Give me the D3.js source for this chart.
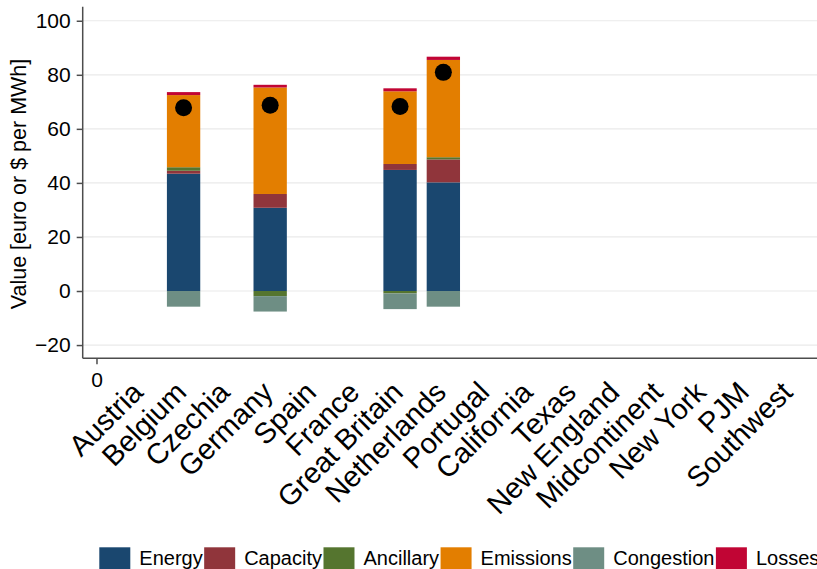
<!DOCTYPE html>
<html>
<head>
<meta charset="utf-8">
<script src="https://cdn.jsdelivr.net/npm/d3@7"></script>
<style>
  html, body { margin: 0; padding: 0; background: #fff; }
  svg { display: block; font-family: "Liberation Sans", Arial, Helvetica, sans-serif; }
</style>
</head>
<body>
<svg id="chart" width="817" height="569"></svg>
<script>
// Markets on the x axis (positions 1..16; position 0 is the bare "0" tick)
const markets = ["Austria", "Belgium", "Czechia", "Germany", "Spain", "France",
  "Great Britain", "Netherlands", "Portugal", "California", "Texas",
  "New England", "Midcontinent", "New York", "PJM", "Southwest"];

// Cost components (euro or $ per MWh); null = no data for that market
const energy     = [null, 43.4, null, 30.8, null, null, 44.8, 40.2, null, null, null, null, null, null, null, null];
const capacity   = [null,  1.1, null,  5.1, null, null,  2.2,  8.5, null, null, null, null, null, null, null, null];
const ancillary  = [null,  1.3, null, -1.9, null, null, -0.9,  0.8, null, null, null, null, null, null, null, null];
const emissions  = [null, 26.7, null, 39.4, null, null, 26.9, 36.0, null, null, null, null, null, null, null, null];
const congestion = [null, -5.8, null, -5.7, null, null, -5.8, -5.8, null, null, null, null, null, null, null, null];
const losses     = [null,  1.1, null,  1.0, null, null,  1.1,  1.2, null, null, null, null, null, null, null, null];
// Net total per market (black dots)
const netTotal   = [null, 67.8, null, 68.7, null, null, 68.3, 80.9, null, null, null, null, null, null, null, null];

const seriesNames = ["Energy", "Capacity", "Ancillary", "Emissions", "Congestion", "Losses"];
const seriesValues = [energy, capacity, ancillary, emissions, congestion, losses];
const seriesColors = ["#1a476f", "#90353b", "#55752f", "#e37e00", "#6e8e84", "#c10534"];

const yTicks = [-20, 0, 20, 40, 60, 80, 100];
const yTitle = "Value [euro or $ per MWh]";

const svg = d3.select("#chart");
const plot = { left: 82.7, right: 817, top: 6.7, bottom: 358.3 };

const x = d3.scaleLinear().domain([-0.33, 16.63]).range([plot.left, plot.right]);
const y = d3.scaleLinear().domain([-24.9, 105.2]).range([plot.bottom, plot.top]);
const color = d3.scaleOrdinal().domain(seriesNames).range(seriesColors);

// Table rows for the stack layout
const rows = markets.map((m, i) => {
  const r = { market: m, pos: i + 1, net: netTotal[i] };
  seriesNames.forEach((s, k) => { r[s] = seriesValues[k][i] == null ? 0 : seriesValues[k][i]; });
  r.hasData = energy[i] != null;
  return r;
});

const stacked = d3.stack()
  .keys(seriesNames)
  .order(d3.stackOrderNone)
  .offset(d3.stackOffsetDiverging)(rows);

// Grid lines
svg.append("g")
  .selectAll("line")
  .data(yTicks)
  .join("line")
  .attr("x1", plot.left).attr("x2", plot.right)
  .attr("y1", d => y(d)).attr("y2", d => y(d))
  .attr("stroke", "#eaeaea").attr("stroke-width", 1.2);

// Bars
const barW = x(0.77) - x(0);
svg.append("g")
  .selectAll("g")
  .data(stacked)
  .join("g")
  .attr("fill", d => color(d.key))
  .selectAll("rect")
  .data(d => d.filter(p => p.data.hasData && p[1] !== p[0]))
  .join("rect")
  .attr("x", p => x(p.data.pos) - barW / 2)
  .attr("width", barW)
  .attr("y", p => y(Math.max(p[0], p[1])))
  .attr("height", p => Math.abs(y(p[0]) - y(p[1])));

// Net total dots
svg.append("g")
  .selectAll("circle")
  .data(rows.filter(r => r.net != null))
  .join("circle")
  .attr("cx", r => x(r.pos))
  .attr("cy", r => y(r.net))
  .attr("r", 8.5)
  .attr("fill", "#000");

// Y axis
const yAxis = svg.append("g")
  .attr("transform", `translate(${plot.left},0)`)
  .call(d3.axisLeft(y).tickValues(yTicks).tickSize(6).tickPadding(6)
    .tickFormat(d => d < 0 ? "\u2212" + Math.abs(d) : d));
yAxis.select(".domain").attr("d", `M0,${plot.top}V${plot.bottom}`);
yAxis.selectAll("path, line").attr("stroke", "#4d4d4d").attr("stroke-width", 1.5);
yAxis.selectAll("text").attr("font-size", 21).attr("fill", "#000")
  .attr("font-family", "Liberation Sans, Arial, sans-serif");

// X axis: numeric "0" tick plus rotated market labels
const xAxis = svg.append("g").attr("transform", `translate(0,${plot.bottom})`);
xAxis.append("line")
  .attr("x1", plot.left).attr("x2", plot.right)
  .attr("stroke", "#4d4d4d").attr("stroke-width", 1.5);
xAxis.append("line")
  .attr("x1", x(0)).attr("x2", x(0)).attr("y1", 0).attr("y2", 6)
  .attr("stroke", "#4d4d4d").attr("stroke-width", 1.5);
xAxis.append("text")
  .attr("x", x(0)).attr("y", 28.5)
  .attr("text-anchor", "middle").attr("font-size", 21).text("0");

svg.append("g")
  .selectAll("text")
  .data(rows)
  .join("text")
  .attr("transform", r => `translate(${x(r.pos) + 4.5},394) rotate(-45)`)
  .attr("text-anchor", "end")
  .attr("font-size", 29)
  .attr("fill", "#000")
  .text(r => r.market);

// Y axis title
svg.append("text")
  .attr("transform", "translate(26,184) rotate(-90)")
  .attr("text-anchor", "middle")
  .attr("font-size", 21.5)
  .text(yTitle);

// Legend (single row, flowing left to right)
const legend = svg.append("g");
let lx = 99.3;
seriesNames.forEach((s, k) => {
  const g = legend.append("g").attr("transform", `translate(${lx},547.3)`);
  g.append("rect").attr("width", 31).attr("height", 31).attr("fill", seriesColors[k]);
  const t = g.append("text").attr("x", 40).attr("y", 17.5)
    .attr("font-size", 20).text(s);
  lx += 40 + t.node().getComputedTextLength() + 1.5;
});
</script>
</body>
</html>
